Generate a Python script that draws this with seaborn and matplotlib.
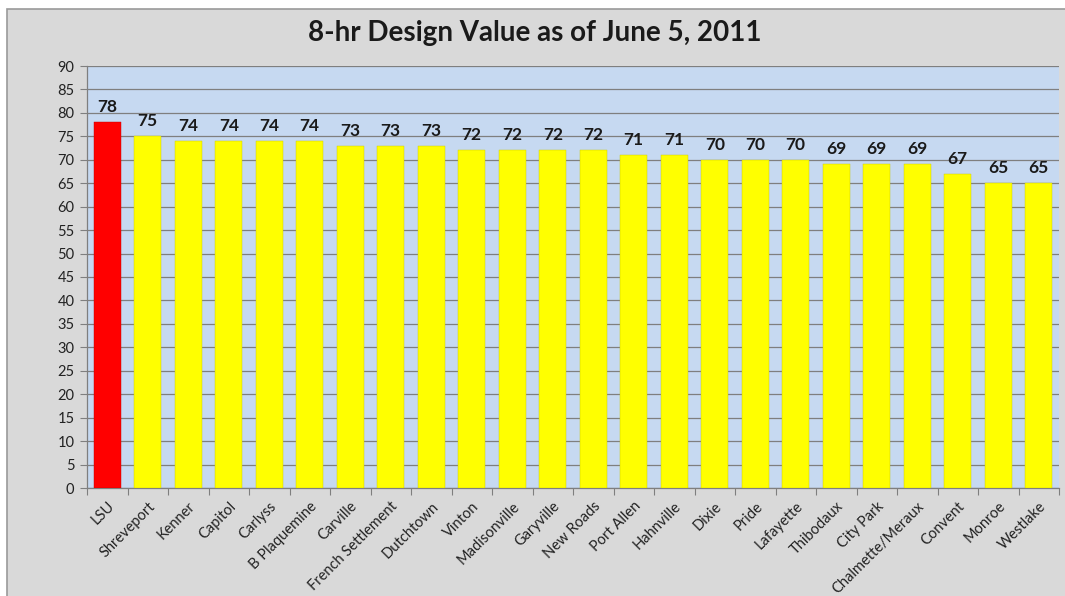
import matplotlib
matplotlib.use("Agg")
import matplotlib.pyplot as plt
import seaborn as sns
import pandas as pd
from matplotlib.patches import Rectangle

sites = ["LSU", "Shreveport", "Kenner", "Capitol", "Carlyss", "B Plaquemine", "Carville",
         "French Settlement", "Dutchtown", "Vinton", "Madisonville", "Garyville", "New Roads",
         "Port Allen", "Hahnville", "Dixie", "Pride", "Lafayette", "Thibodaux", "City Park",
         "Chalmette/Meraux", "Convent", "Monroe", "Westlake"]
values = [78, 75, 74, 74, 74, 74, 73, 73, 73, 72, 72, 72, 72, 71, 71, 70, 70, 70, 69, 69, 69, 67, 65, 65]
yticks = list(range(0, 91, 5))
title = "8-hr Design Value as of June 5, 2011"

sns.set_theme(style="white")
plt.rcParams["font.family"] = ["Lato", "DejaVu Sans"]

df = pd.DataFrame({"site": sites, "value": values})
colors = ["#ff0000"] + ["#ffff00"] * (len(sites) - 1)

W, H = 1065, 596
fig = plt.figure(figsize=(W / 100, H / 100), dpi=100, facecolor="white")
fig.patches.append(Rectangle((7 / W, -0.01), 1.0, 1.01 - 9 / H, transform=fig.transFigure,
                             facecolor="#d9d9d9", edgecolor="#9a9a9a", linewidth=1.2, zorder=-10))

ax = fig.add_axes([87 / W, (H - 488) / H, (1059 - 87) / W, (488 - 66) / H])
ax.set_zorder(1)
ax.set_facecolor("#c6d9f1")

sns.barplot(data=df, x="site", y="value", hue="site", palette=colors, legend=False,
            width=0.67, ax=ax, zorder=3, saturation=1)
for p in ax.patches:
    p.set_edgecolor("#c8c800")
    p.set_linewidth(0.3)
ax.patches[0].set_edgecolor("#c00000")

for i, v in enumerate(values):
    ax.text(i, v + 1.5, str(v), ha="center", va="bottom", fontsize=12.5,
            fontweight="bold", color="#1a1a1a", zorder=4)

ax.set_ylim(0, 90)
ax.set_xlim(-0.5, len(sites) - 0.5)
ax.set_yticks(yticks)
ax.set_yticklabels([str(t) for t in yticks], fontsize=10.5, color="#222222")
ax.yaxis.grid(True, color="#7f7f7f", linewidth=0.9, zorder=0)
ax.set_axisbelow(True)
ax.set_xticks(range(len(sites)))
ax.set_xticklabels(sites, rotation=45, ha="right", rotation_mode="anchor", fontsize=10.5, color="#222222")
ax.tick_params(axis="x", length=0, pad=8)
ax.tick_params(axis="y", length=5, width=0.8, color="#7f7f7f", left=True, pad=4)
ax.set_xticks([i - 0.5 for i in range(len(sites) + 1)], minor=True)
ax.tick_params(axis="x", which="minor", length=5, width=0.8, color="#7f7f7f", bottom=True)

for s in ["top", "right"]:
    ax.spines[s].set_visible(False)
for s in ["left", "bottom"]:
    ax.spines[s].set_color("#7f7f7f")
    ax.spines[s].set_linewidth(0.9)
ax.set_xlabel("")
ax.set_ylabel("")

fig.text(535 / W, 1 - 33 / H, title, ha="center", va="center", fontsize=20,
         fontweight="bold", color="#1a1a1a")

fig.savefig("out.png", dpi=100, facecolor=fig.get_facecolor())
